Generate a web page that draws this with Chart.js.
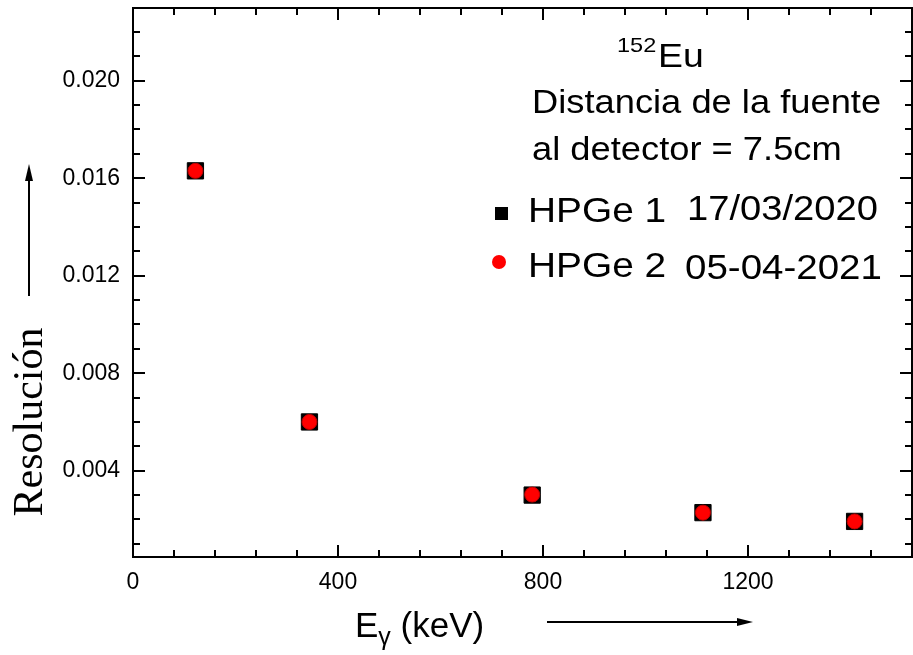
<!DOCTYPE html>
<html>
<head>
<meta charset="utf-8">
<script src="https://cdn.jsdelivr.net/npm/chart.js@4/dist/chart.umd.min.js"></script>
<style>
  html, body { margin: 0; padding: 0; background: #fff; }
  #wrap { width: 913px; height: 655px; }
</style>
</head>
<body>
<div id="wrap"><canvas id="chart" width="913" height="655"></canvas></div>
<script>
// Eu-152 gamma lines (keV) and energy resolution for both detectors
const energies = [121.8, 344.3, 778.9, 1112.1, 1408.0];
const resHPGe1 = [0.01630, 0.00600, 0.00300, 0.00228, 0.00192];
const resHPGe2 = [0.01630, 0.00600, 0.00302, 0.00228, 0.00192];

const xTicks = [0, 400, 800, 1200];
const yTicks = [0.004, 0.008, 0.012, 0.016, 0.020];

const seriesNames = ['HPGe 1', 'HPGe 2'];
const seriesDates = ['17/03/2020', '05-04-2021'];

const SANS = '"Liberation Sans", Arial, sans-serif';

const toPoints = (xs, ys) => xs.map((x, i) => ({ x: x, y: ys[i] }));

// text in the reference is a bit wider than Arial, so stretch it
function wideText(ctx, txt, x, y, size, sx) {
  ctx.save();
  ctx.font = size + 'px ' + SANS;
  ctx.translate(x, y);
  ctx.scale(sx, 1);
  ctx.fillText(txt, 0, 0);
  const w = ctx.measureText(txt).width * sx;
  ctx.restore();
  return w;
}

// frame with inward ticks on all four sides, plus annotations
const framePlugin = {
  id: 'frame',
  afterDraw(chart) {
    const ctx = chart.ctx;
    const a = chart.chartArea;
    const xs = chart.scales.x, ys = chart.scales.y;
    ctx.save();
    ctx.strokeStyle = '#000';
    ctx.lineWidth = 2;
    ctx.strokeRect(a.left, a.top, a.right - a.left, a.bottom - a.top);

    ctx.beginPath();
    for (let v = 80; v < xs.max; v += 80) {
      const px = Math.round(xs.getPixelForValue(v));
      const len = v % 400 === 0 ? 12 : 7;
      ctx.moveTo(px, a.bottom); ctx.lineTo(px, a.bottom - len);
      ctx.moveTo(px, a.top); ctx.lineTo(px, a.top + len);
    }
    for (let k = 1; k * 0.001 < ys.max; k++) {
      const py = Math.round(ys.getPixelForValue(k * 0.001));
      const len = k % 4 === 0 ? 12 : 7;
      ctx.moveTo(a.left, py); ctx.lineTo(a.left + len, py);
      ctx.moveTo(a.right, py); ctx.lineTo(a.right - len, py);
    }
    ctx.stroke();

    ctx.fillStyle = '#000';
    ctx.textBaseline = 'alphabetic';
    ctx.textAlign = 'left';

    // x title: E_gamma (keV)
    let x = 355;
    x += wideText(ctx, 'E', x, 637, 35, 1);
    x += wideText(ctx, '\u03b3', x, 645, 25, 1);
    wideText(ctx, ' (keV)', x, 637, 35, 1);

    // horizontal arrow
    ctx.lineWidth = 2;
    ctx.beginPath();
    ctx.moveTo(547, 622); ctx.lineTo(740, 622); ctx.stroke();
    ctx.beginPath();
    ctx.moveTo(753, 622); ctx.lineTo(737, 618); ctx.lineTo(737, 626); ctx.closePath(); ctx.fill();

    // y title
    ctx.save();
    ctx.translate(42, 422);
    ctx.rotate(-Math.PI / 2);
    ctx.textAlign = 'center';
    ctx.font = '42px "Liberation Serif", "Times New Roman", serif';
    ctx.fillText('Resolución', 0, 0);
    ctx.restore();

    // vertical arrow
    ctx.beginPath();
    ctx.moveTo(29, 296); ctx.lineTo(29, 178); ctx.stroke();
    ctx.beginPath();
    ctx.moveTo(29, 164); ctx.lineTo(25, 181); ctx.lineTo(33, 181); ctx.closePath(); ctx.fill();

    // 152Eu
    wideText(ctx, '152', 617, 52, 21, 1.12);
    wideText(ctx, 'Eu', 658, 67, 34, 1.1);

    wideText(ctx, 'Distancia de la fuente', 532, 113, 33, 1.1);
    wideText(ctx, 'al detector = 7.5cm', 532, 160, 33, 1.1);

    // legend
    ctx.fillRect(495, 207, 13, 13);
    wideText(ctx, seriesNames[0], 528, 222, 35, 1.11);
    wideText(ctx, seriesDates[0], 687, 220, 35, 1.09);
    ctx.fillStyle = '#ff0000';
    ctx.beginPath(); ctx.arc(499, 262, 7, 0, Math.PI * 2); ctx.fill();
    ctx.fillStyle = '#000';
    wideText(ctx, seriesNames[1], 528, 277, 35, 1.11);
    wideText(ctx, seriesDates[1], 685, 279, 35, 1.1);
    ctx.restore();
  }
};

const noPad = s => { s.paddingTop = 0; s.paddingBottom = 0; s.paddingLeft = 0; s.paddingRight = 0; };

new Chart(document.getElementById('chart'), {
  type: 'scatter',
  data: {
    datasets: [
      {
        label: seriesNames[1],
        data: toPoints(energies, resHPGe2),
        pointStyle: 'circle',
        pointRadius: 7.5,
        backgroundColor: '#ff0000',
        borderColor: '#c00000',
        borderWidth: 1,
        order: 0
      },
      {
        label: seriesNames[0],
        data: toPoints(energies, resHPGe1),
        pointStyle: 'rect',
        pointRadius: 11.5,
        backgroundColor: '#000000',
        borderColor: '#000000',
        borderWidth: 1,
        order: 1
      }
    ]
  },
  options: {
    responsive: false,
    animation: false,
    layout: { autoPadding: false, padding: { top: 8, right: 1, left: 0, bottom: 0 } },
    plugins: { legend: { display: false }, tooltip: { enabled: false } },
    scales: {
      x: {
        type: 'linear',
        min: 0,
        max: 1520,
        grid: { display: false, drawTicks: false },
        border: { display: false },
        ticks: { color: '#000', padding: 12, font: { family: SANS, size: 23 }, callback: v => String(v) },
        afterBuildTicks: s => { s.ticks = xTicks.map(v => ({ value: v })); },
        afterFit: s => { s.height = 98; noPad(s); }
      },
      y: {
        type: 'linear',
        min: 0.00046,
        max: 0.02298,
        grid: { display: false, drawTicks: false },
        border: { display: false },
        ticks: {
          color: '#000', padding: 13,
          font: { family: SANS, size: 23 },
          callback: v => v.toFixed(3)
        },
        afterBuildTicks: s => { s.ticks = yTicks.map(v => ({ value: v })); },
        afterFit: s => { s.width = 133; noPad(s); }
      }
    }
  },
  plugins: [framePlugin]
});
</script>
</body>
</html>
